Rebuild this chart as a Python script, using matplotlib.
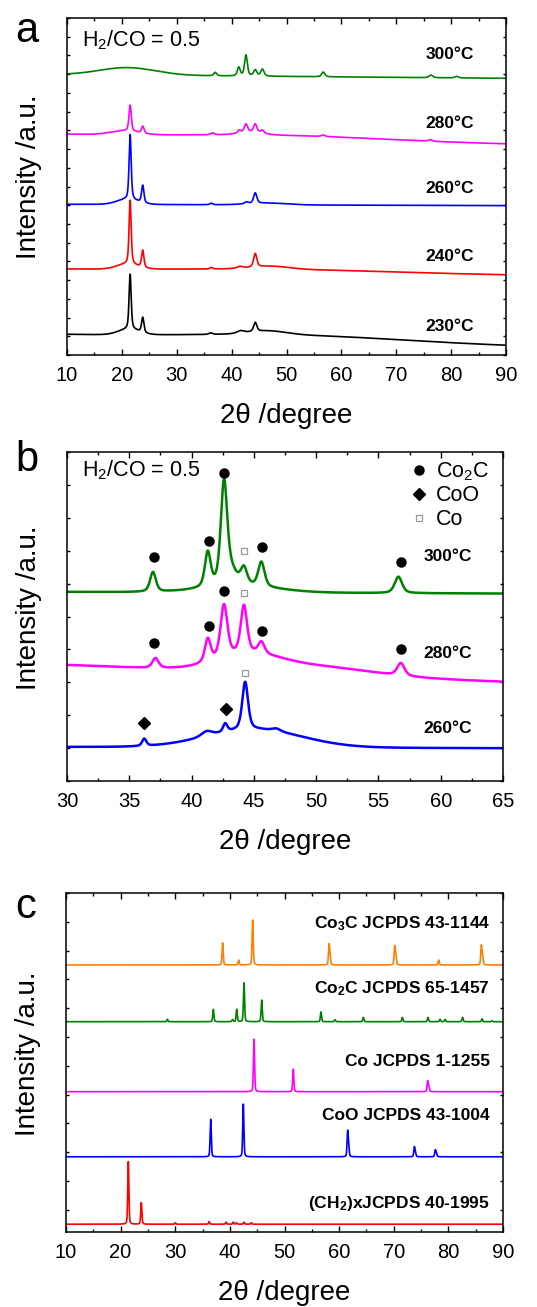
import numpy as np
import matplotlib
matplotlib.use("Agg")
import matplotlib.pyplot as plt
from matplotlib.ticker import MultipleLocator, NullFormatter
from matplotlib.lines import Line2D

plt.rcParams['font.family'] = ['Liberation Sans', 'DejaVu Sans']
plt.rcParams['mathtext.fontset'] = 'custom'
plt.rcParams['mathtext.rm'] = 'Liberation Sans'
plt.rcParams['mathtext.it'] = 'Liberation Sans:italic'
plt.rcParams['mathtext.bf'] = 'Liberation Sans:bold'

# ---------------- panel a: spent catalysts, wide scan ----------------
labels_a = ['230°C', '240°C', '260°C', '280°C', '300°C']
colors_a = ['black', 'red', 'blue', 'magenta', 'green']
base_start_a = [1.08, 4.58, 8.05, 11.79, 14.98]
base_end_a = [0.48, 4.27, 7.98, 11.27, 14.78]
label_y_a = [1.51, 5.25, 8.92, 12.39, 16.03]
# (position 2theta, height, fwhm)
peaks_a_230 = [(21.3, 0.30, 4.5), (21.5, 2.94, 0.45), (23.8, 0.80, 0.5),
               (36.2, 0.08, 0.8), (41.6, 0.13, 1.5), (44.3, 0.48, 0.7),
               (46.5, 0.20, 8.0), (52.0, 0.30, 45.0)]
peaks_a_240 = [(21.0, 0.27, 4.5), (21.5, 3.42, 0.45), (23.8, 0.91, 0.5),
               (36.3, 0.08, 0.6), (41.5, 0.10, 1.2), (44.3, 0.72, 0.7),
               (47.0, 0.16, 8.0), (50.0, 0.15, 45.0)]
peaks_a_260 = [(21.0, 0.27, 4.5), (21.5, 3.47, 0.45), (23.8, 0.93, 0.5),
               (36.3, 0.08, 0.6), (42.7, 0.10, 0.8), (44.3, 0.56, 0.7),
               (46.5, 0.10, 8.0)]
peaks_a_280 = [(20.5, 0.21, 6.0), (21.5, 1.39, 0.5), (23.8, 0.37, 0.55),
               (36.5, 0.10, 0.8), (41.4, 0.15, 0.6), (42.6, 0.43, 0.7),
               (43.5, 0.16, 5.0), (44.3, 0.43, 0.7), (45.6, 0.15, 0.7),
               (56.7, 0.08, 0.8), (76.2, 0.08, 0.8), (50.0, 0.20, 40.0)]
peaks_a_300 = [(21.0, 0.40, 12.0), (37.0, 0.18, 0.6), (41.3, 0.46, 0.6),
               (42.6, 1.12, 0.6), (44.3, 0.32, 0.7), (45.6, 0.37, 0.7),
               (56.7, 0.25, 0.7), (76.3, 0.14, 0.8), (81.0, 0.08, 0.8)]
peaks_a = [peaks_a_230, peaks_a_240, peaks_a_260, peaks_a_280, peaks_a_300]

# ---------------- panel b: zoom on the Co phases ----------------
labels_b = ['260°C', '280°C', '300°C']
colors_b = ['blue', 'magenta', 'green']
base_start_b = [1.04, 3.53, 5.75]
base_end_b = [1.00, 3.02, 5.70]
label_y_b = [1.60, 3.88, 6.82]
peaks_b_260 = [(36.2, 0.22, 0.4), (41.2, 0.15, 1.0), (42.7, 0.25, 0.4),
               (44.3, 1.45, 0.55), (45.0, 0.55, 9.0), (46.8, 0.08, 0.8)]
peaks_b_280 = [(37.1, 0.30, 0.6), (41.3, 0.70, 0.55), (42.6, 1.60, 0.65),
               (44.2, 1.45, 0.6), (45.6, 0.35, 0.6), (56.8, 0.38, 0.7),
               (44.5, 0.45, 6.0), (50.0, 0.25, 10.0)]
peaks_b_300 = [(36.9, 0.60, 0.55), (41.3, 1.05, 0.55), (42.6, 3.00, 0.6),
               (43.1, 0.45, 1.2), (44.2, 0.50, 0.6), (45.6, 0.75, 0.6),
               (56.6, 0.50, 0.7), (44.0, 0.18, 7.0)]
peaks_b = [peaks_b_260, peaks_b_280, peaks_b_300]

# phase markers above the reflections
co2c_x = [36.98, 41.4, 42.63, 45.65, 56.8, 36.98, 41.4, 42.63, 45.65, 56.8]
co2c_y = [6.82, 7.30, 9.37, 7.12, 6.65, 4.19, 4.71, 5.78, 4.56, 4.00]
coo_x = [36.18, 42.74]
coo_y = [1.77, 2.19]
co_x = [44.2, 44.2, 44.26]
co_y = [7.00, 5.71, 3.29]

# ---------------- panel c: reference patterns ----------------
labels_c = ['(CH$_\\mathbf{2}$)xJCPDS 40-1995', 'CoO JCPDS 43-1004',
            'Co JCPDS 1-1255', 'Co$_\\mathbf{2}$C JCPDS 65-1457',
            'Co$_\\mathbf{3}$C JCPDS 43-1144']
colors_c = ['red', 'blue', 'magenta', 'green', '#ff8000']
base_c = [-0.50, 1.84, 4.10, 6.53, 8.50]
label_y_c = [0.23, 3.29, 5.14, 7.69, 9.95]
lines_ch2 = [(21.41, 2.17), (23.79, 0.75), (30.0, 0.05), (36.2, 0.09),
             (39.3, 0.07), (40.6, 0.07), (41.2, 0.05), (42.6, 0.07), (43.9, 0.05)]
lines_coo = [(36.49, 1.30), (42.46, 1.83), (61.56, 0.85), (61.75, 0.30),
             (73.77, 0.33), (73.97, 0.12), (77.61, 0.23), (77.82, 0.10)]
lines_co = [(44.42, 1.82), (51.61, 0.78), (76.21, 0.37), (76.45, 0.15)]
lines_co2c = [(28.55, 0.08), (36.97, 0.43), (40.5, 0.07), (41.25, 0.43),
              (42.59, 1.35), (45.82, 0.75), (56.68, 0.34), (59.24, 0.07),
              (64.43, 0.15), (71.57, 0.15), (76.27, 0.15), (78.47, 0.08),
              (79.38, 0.08), (82.6, 0.15), (86.16, 0.10), (87.99, 0.03)]
lines_co3c = [(38.68, 0.77), (41.6, 0.17), (44.17, 1.56), (58.15, 0.69),
              (58.35, 0.25), (70.17, 0.61), (70.37, 0.30), (78.22, 0.17),
              (86.03, 0.66), (86.26, 0.30)]
lines_c = [lines_ch2, lines_coo, lines_co, lines_co2c, lines_co3c]


def pattern(x, start, end, peaks, eta=0.5):
    """Linear background plus peak profiles (broad humps drawn as Gaussians)."""
    y = start + (end - start) * (x - x[0]) / (x[-1] - x[0])
    for c, h, w in peaks:
        g = np.exp(-4 * np.log(2) * ((x - c) / w) ** 2)
        if w >= 3:
            y = y + h * g
        else:
            lor = 1.0 / (1 + 4 * ((x - c) / w) ** 2)
            y = y + h * (eta * lor + (1 - eta) * g)
    return y


fig = plt.figure(figsize=(5.37, 13.07), dpi=100)

TICK_FS = 14.5
XLAB_FS = 20
YLAB_FS = 20
YLAB_X = -0.057


def style_axes(ax, xmaj, xmin):
    ax.xaxis.set_major_locator(MultipleLocator(xmaj))
    ax.xaxis.set_minor_locator(MultipleLocator(xmin))
    ax.yaxis.set_major_locator(MultipleLocator(1))
    ax.yaxis.set_major_formatter(NullFormatter())
    ax.tick_params(axis='both', which='both', direction='in', top=True, right=True,
                   width=1.0, labelsize=TICK_FS)
    ax.tick_params(axis='x', which='major', length=4, pad=8)
    ax.tick_params(axis='x', which='minor', length=2.5)
    ax.tick_params(axis='y', which='major', length=2.5)
    for s in ax.spines.values():
        s.set_linewidth(1.1)
    ax.set_xlabel('2θ /degree', fontsize=XLAB_FS, labelpad=13)
    ax.set_ylabel('Intensity /a.u.', fontsize=YLAB_FS)


# panel a
ax_a = fig.add_axes([0.1248, 0.7284, 0.8175, 0.2578])
xa = np.linspace(10, 90, 4001)
for lab, col, b0, b1, pk, ly in zip(labels_a, colors_a, base_start_a, base_end_a,
                                    peaks_a, label_y_a):
    ax_a.plot(xa, pattern(xa, b0, b1, pk), color=col, lw=1.2)
    ax_a.text(79.8, ly, lab, ha='center', va='center', fontsize=12.5, fontweight='bold')
ax_a.set_xlim(10, 90)
ax_a.set_ylim(0, 18)
style_axes(ax_a, 10, 5)
ax_a.yaxis.set_label_coords(YLAB_X, 0.529)
ax_a.text(0.035, 0.935, 'H$_\\mathregular{2}$/CO = 0.5', transform=ax_a.transAxes,
          fontsize=15.5, ha='left', va='center')

# panel b
ax_b = fig.add_axes([0.1248, 0.4024, 0.8119, 0.2517])
xb = np.linspace(30, 65, 3501)
for lab, col, b0, b1, pk, ly in zip(labels_b, colors_b, base_start_b, base_end_b,
                                    peaks_b, label_y_b):
    ax_b.plot(xb, pattern(xb, b0, b1, pk), color=col, lw=1.8)
    ax_b.text(60.55, ly, lab, ha='center', va='center', fontsize=12.5, fontweight='bold')
ax_b.plot(co2c_x, co2c_y, 'o', color='black', ms=6.5, ls='none')
ax_b.plot(coo_x, coo_y, 'D', color='black', ms=6, ls='none')
ax_b.plot(co_x, co_y, 's', mfc='white', mec='#9a9a9a', mew=0.9, ms=5, ls='none')
ax_b.set_xlim(30, 65)
ax_b.set_ylim(0, 10)
style_axes(ax_b, 5, 2.5)
ax_b.yaxis.set_label_coords(YLAB_X, 0.527)
ax_b.text(0.035, 0.945, 'H$_\\mathregular{2}$/CO = 0.5', transform=ax_b.transAxes,
          fontsize=15.5, ha='left', va='center')
handles = [Line2D([], [], marker='o', color='black', ls='none', ms=6.5),
           Line2D([], [], marker='D', color='black', ls='none', ms=6),
           Line2D([], [], marker='s', mfc='white', mec='#9a9a9a', mew=0.9, ls='none', ms=5)]
ax_b.legend(handles, ['Co$_\\mathregular{2}$C', 'CoO', 'Co'], loc='upper left',
            bbox_to_anchor=(0.789, 0.975), frameon=False, fontsize=15.5,
            handlelength=0.7, handletextpad=0.45, labelspacing=0.12,
            borderpad=0, borderaxespad=0)

# panel c
ax_c = fig.add_axes([0.1229, 0.0574, 0.8138, 0.2594])
xc = np.linspace(10, 90, 8001)
for lab, col, b0, pk, ly in zip(labels_c, colors_c, base_c, lines_c, label_y_c):
    pk3 = [(c, h, 0.25) for c, h in pk]
    ax_c.plot(xc, pattern(xc, b0, b0, pk3, eta=0.3), color=col, lw=1.2)
    ax_c.text(0.970, ly, lab, transform=ax_c.get_yaxis_transform(),
              ha='right', va='center', fontsize=12.5, fontweight='bold')
ax_c.set_xlim(10, 90)
ax_c.set_ylim(-0.77, 11)
style_axes(ax_c, 10, 5)
ax_c.yaxis.set_label_coords(YLAB_X, 0.527)

# panel letters
fig.text(15 / 537, 1 - 42 / 1307, 'a', fontsize=30, ha='left', va='baseline')
fig.text(15 / 537, 1 - 471 / 1307, 'b', fontsize=30, ha='left', va='baseline')
fig.text(15 / 537, 1 - 918 / 1307, 'c', fontsize=30, ha='left', va='baseline')

fig.savefig('out.png', dpi=100)
